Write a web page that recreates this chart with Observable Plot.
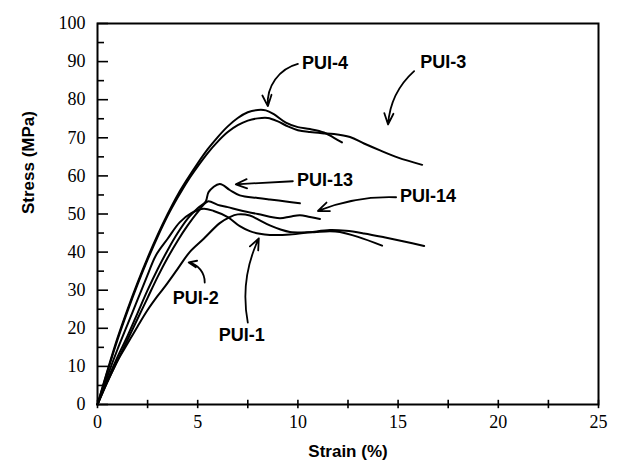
<!DOCTYPE html>
<html>
<head>
<meta charset="utf-8">
<script src="https://cdn.jsdelivr.net/npm/d3@7"></script>
<script src="https://cdn.jsdelivr.net/npm/@observablehq/plot@0.6"></script>
<style>
  body { margin: 0; background: #fff; }
  #chart svg { display: block; }
</style>
</head>
<body>
<div id="chart"></div>
<script>
// Stress–strain curves of the PUI films: [strain (%), stress (MPa)]
const samples = ["PUI-4", "PUI-3", "PUI-13", "PUI-14", "PUI-2", "PUI-1"];

const pui4 = [[0,0],[0.5,9],[1,17.5],[1.5,25],[2,32],[2.5,38.5],[3,44.5],[3.5,50],[4,55],[4.5,59.3],[5,63.3],
  [5.5,67],[6,70.2],[6.5,73],[7,75.2],[7.5,76.7],[8,77.3],[8.4,77.2],[8.8,76.2],[9.4,74],[10,72.8],
  [10.6,72.3],[11.3,71.4],[11.8,70],[12.2,68.8]];
const pui3 = [[0,0],[0.5,8.7],[1,17],[1.5,24.5],[2,31.5],[2.5,38],[3,44],[3.5,49.5],[4,54.3],[4.5,58.7],[5,62.5],
  [5.5,66],[6,69],[6.5,71.5],[7,73.3],[7.5,74.5],[8,75.1],[8.5,75.2],[9,74.3],[9.5,73],[10,72],
  [10.6,71.5],[11.2,71.2],[11.8,71],[12.6,70.2],[13.3,68.5],[14.1,66.7],[15,64.8],[16.2,62.9]];
const pui13 = [[0,0],[0.5,6.5],[1,12.5],[1.5,18],[2,24],[2.5,30],[3,35.5],[3.5,40.5],[4,45],[4.5,48.8],
  [5,51.5],[5.4,53.3],[5.55,55.8],[6.1,57.9],[6.6,56.3],[7.1,54.9],[8,54.2],[8.6,53.8],[9.4,53.3],[10.1,52.8]];
const pui14 = [[0,0],[0.5,6],[1,11.5],[1.5,17],[2,22.5],[2.5,28],[3,33.5],[3.5,38.5],[4,43],[4.5,47],
  [5,50.5],[5.5,53.3],[6,52.4],[6.5,51.8],[7.1,51],[8,50],[9.1,48.9],[9.6,49.3],[10.1,49.7],[10.6,49.2],[11.1,48.7]];
const pui2 = [[0,0],[0.5,6],[1,11.5],[1.5,16],[2,20.5],[2.5,24.8],[3,28.5],[3.4,31.2],[4,35.6],[4.6,40],
  [5.3,43.5],[6.1,47.6],[6.6,49.2],[7,49.9],[7.6,49.6],[8.1,48.3],[8.6,47],[9.1,46],[9.6,45.3],[10.6,45.2],
  [11.6,45.5],[12.1,45.3],[13,44],[14.2,41.7]];
const pui1 = [[0,0],[0.5,7.5],[1,14.5],[1.5,21],[2,27.5],[2.5,34],[2.9,39],[3.5,43.5],[4.1,47.8],[4.7,50.3],
  [5.3,51.4],[5.8,50.8],[6.5,49.2],[7.1,46.8],[7.6,45.5],[8.1,44.8],[8.6,44.5],[9.6,44.6],[10.6,45.2],
  [11.6,45.8],[12.4,45.6],[13.3,44.9],[14.3,43.9],[15.3,42.8],[16.3,41.6]];
const curves = [pui4, pui3, pui13, pui14, pui2, pui1];

// Axis ticks
const xLabels = [0, 5, 10, 15, 20, 25];
const xTicks = [0, 2.5, 5, 7.5, 10, 12.5, 15, 17.5, 20, 22.5, 25];
const yLabels = [0, 10, 20, 30, 40, 50, 60, 70, 80, 90, 100];
const yTicks = d3.range(0, 101, 5);

// Callouts: label anchor and arrow (tail → head), in strain/stress units
const notes = [
  {text: "PUI-4",  x: 10.2, y: 89.6, x1: 10.0, y1: 89.4, x2: 8.5,  y2: 78.3, bend: -40},
  {text: "PUI-3",  x: 16.1, y: 89.8, x1: 15.8, y1: 87.5, x2: 14.5, y2: 73.5, bend: -22},
  {text: "PUI-13", x: 9.95, y: 58.8, x1: 9.75, y1: 58.6, x2: 6.9,  y2: 57.8, bend: 0},
  {text: "PUI-14", x: 15.1, y: 54.6, x1: 14.9, y1: 54.4, x2: 11.0, y2: 50.8, bend: -12},
  {text: "PUI-2",  x: 3.75, y: 27.8, x1: 5.35, y1: 32.0, x2: 4.55, y2: 37.3, bend: -40},
  {text: "PUI-1",  x: 6.05, y: 18.1, x1: 7.5,  y1: 21.5, x2: 8.05, y2: 43.6, bend: 18}
];

const rows = samples.flatMap((s, i) => curves[i].map(([strain, stress]) => ({sample: s, strain, stress})));

const sans = "Liberation Sans, Arial, sans-serif";

const chart = Plot.plot({
  width: 621,
  height: 472,
  marginLeft: 97,
  marginRight: 23,
  marginTop: 23,
  marginBottom: 68,
  x: {domain: [0, 25]},
  y: {domain: [0, 100]},
  style: {fontFamily: "Liberation Serif, Times New Roman, serif", fontSize: "18px", color: "#000", background: "#fff"},
  marks: [
    Plot.axisX({ticks: xLabels, tickSize: 0, tickPadding: 11, label: null, fontSize: 18}),
    Plot.axisY({ticks: yLabels, tickSize: 0, tickPadding: 12, label: null, fontSize: 18}),
    Plot.ruleX(xTicks, {x: d => d, y1: -1.1, y2: 1.1, stroke: "#000", strokeWidth: 1.6}),
    Plot.ruleY(yTicks, {y: d => d, x1: 0, x2: d => (d % 10 === 0 ? 0.55 : 0.35), stroke: "#000", strokeWidth: 1.6}),
    Plot.frame({stroke: "#000", strokeWidth: 2}),
    Plot.line(rows, {x: "strain", y: "stress", z: "sample", curve: "catmull-rom", stroke: "#000", strokeWidth: 2}),
    ...notes.map(n => Plot.arrow([n], {
      x1: "x1", y1: "y1", x2: "x2", y2: "y2", bend: n.bend,
      stroke: "#000", strokeWidth: 1.8, headLength: 10, headAngle: 45
    })),
    Plot.text(notes, {x: "x", y: "y", text: "text", textAnchor: "start", fontFamily: sans, fontWeight: "bold", fontSize: 18, fill: "#000"}),
    Plot.text(["Strain (%)"], {text: d => d, frameAnchor: "bottom", dy: 52, fontFamily: sans, fontWeight: "bold", fontSize: 17, fill: "#000"}),
    Plot.text(["Stress (MPa)"], {text: d => d, frameAnchor: "left", dx: -69, rotate: -90, fontFamily: sans, fontWeight: "bold", fontSize: 17, fill: "#000"})
  ]
});

document.getElementById("chart").append(chart);
</script>
</body>
</html>
